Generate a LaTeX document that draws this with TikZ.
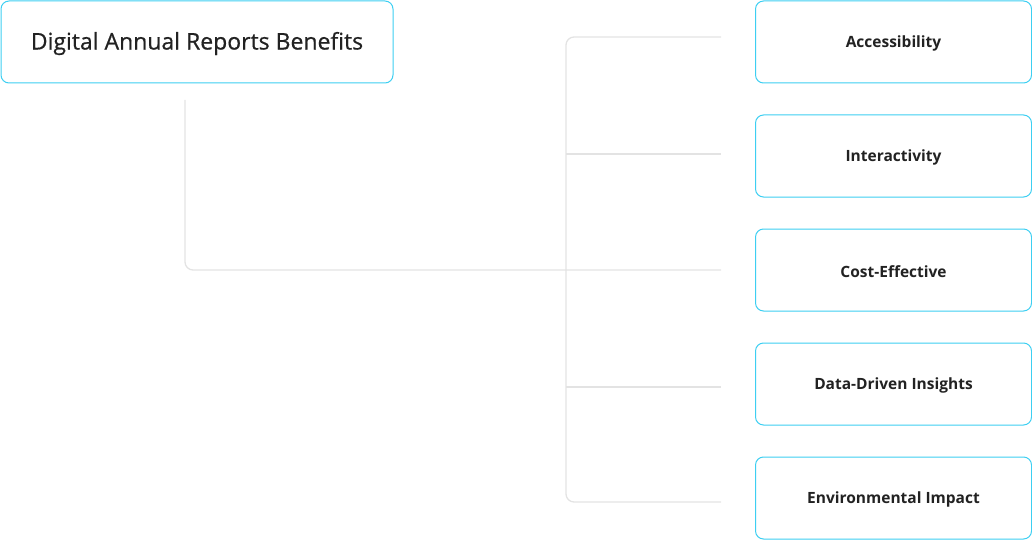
\documentclass[tikz,border=0pt]{standalone}
\usepackage{fontspec}
\setmainfont{Open Sans}
\newfontfamily\medf{Open Sans}[FakeBold=0.6]
\begin{document}
\begin{tikzpicture}[x=1pt,y=-1pt,
  box/.style={draw=boxc, line width=1pt, rounded corners=8pt, fill=white, inner sep=0pt, anchor=north west},
  conn/.style={draw=linec, line width=1.3pt, rounded corners=8pt}]
\definecolor{boxc}{HTML}{3DCFF2}
\definecolor{linec}{HTML}{E3E3E3}
\definecolor{txt}{HTML}{222222}
\useasboundingbox (0,0) rectangle (1032,540);
\node[box, minimum width=392pt, minimum height=82pt] (root) at (0.5,0.5) {};
\node[text=txt, font=\medf\fontsize{23}{27}\selectfont, yshift=-1.5pt] at (root.center) {Digital Annual Reports Benefits};
\foreach \n/\y/\t in {a/0.5/Accessibility, b/114.5/Interactivity, c/228.5/Cost-Effective, d/342.5/Data-Driven Insights, e/456.5/Environmental Impact}{
  \node[box, minimum width=276pt, minimum height=82pt] (\n) at (755,\y) {};
  \node[text=txt, font=\bfseries\fontsize{15.5}{19}\selectfont, yshift=-1.5pt] at (\n.center) {\t};
}
\coordinate (s) at (185,100);
\coordinate (m) at (721,270);
\coordinate (t1) at (721,37);
\coordinate (t2) at (721,154);
\coordinate (t4) at (721,387);
\coordinate (t5) at (721,502);
\draw[conn] (s) |- (m);
\draw[conn] (t1) -| (566,270) |- (t5);
\draw[conn] (566,154) -- (t2);
\draw[conn] (566,387) -- (t4);
\end{tikzpicture}
\end{document}
